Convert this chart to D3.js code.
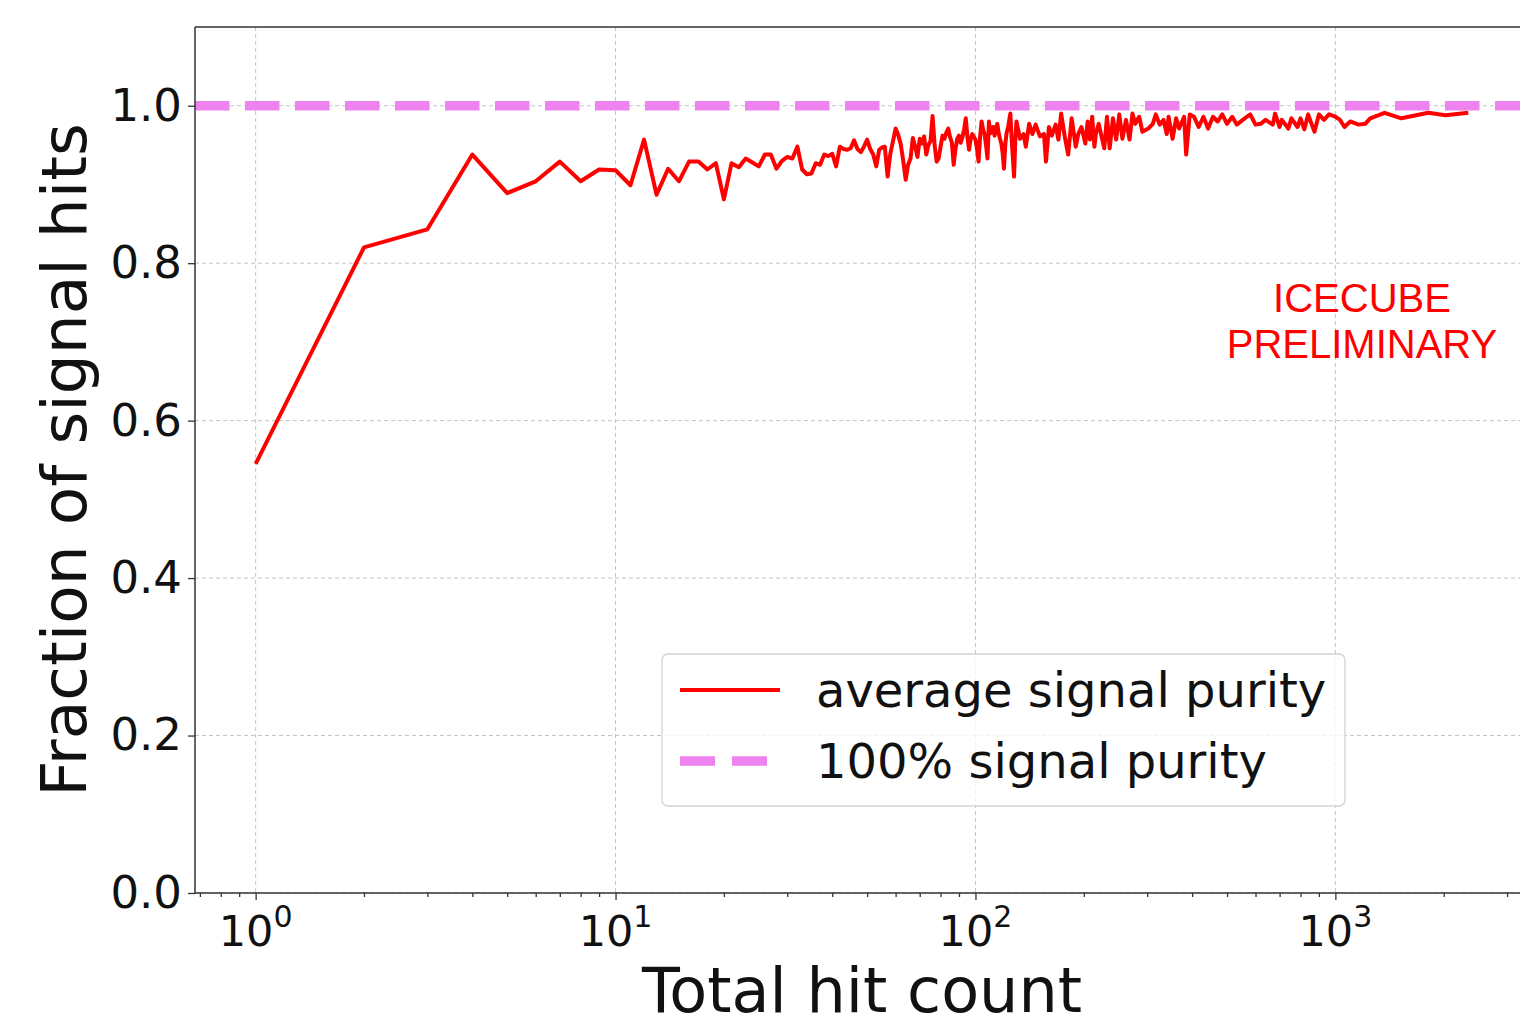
<!DOCTYPE html>
<html>
<head>
<meta charset="utf-8">
<script src="https://cdn.jsdelivr.net/npm/d3@7"></script>
<style>
  body { margin: 0; background: #fff; }
  svg { display: block; }
</style>
</head>
<body>
<svg id="chart" width="1520" height="1028"></svg>
<script>
// Average signal purity per total hit count
const hitCounts = [
  1, 2, 3, 4, 5, 6, 7, 8, 9, 10,
  11, 12, 13, 14, 15, 16, 17, 18, 19, 20,
  21, 22, 23, 24, 25, 26, 27, 28, 29, 30,
  31, 32, 33, 34, 35, 36, 37, 38, 39, 40,
  41, 42, 43, 44, 45, 46, 47, 48, 49, 50,
  51, 52, 53, 54, 55, 56, 57, 58, 59, 60,
  61, 62, 63, 64, 65, 66, 67, 68, 69, 70,
  71, 72, 73, 74, 75, 76, 77, 78, 79, 80,
  81, 82, 83, 84, 85, 86, 87, 88, 89, 90,
  91, 92, 93, 94, 95, 96, 97, 98, 99, 100,
  101, 102, 103, 104, 105, 106, 107, 108, 109, 110,
  111, 112, 113, 114, 115, 116, 117, 118, 119, 120,
  121, 122, 123, 124, 125, 126, 127, 128, 129, 130,
  133, 136, 138, 141, 144, 147, 151, 155, 157, 160,
  163, 167, 170, 173, 177, 181, 185, 190, 193, 197,
  202, 205, 208, 211, 214, 216, 220, 224, 228, 232,
  236, 241, 246, 251, 256, 262, 268, 273, 278, 285,
  291, 302, 311, 317, 325, 333, 340, 344, 353, 361,
  368, 380, 385, 394, 405, 417, 430, 443, 457, 471,
  485, 500, 517, 532, 560, 580, 600, 620, 640, 670,
  680, 700, 710, 740, 755, 785, 800, 820, 840, 860,
  875, 900, 930, 960, 1000, 1030, 1060, 1100, 1160, 1210,
  1250, 1320, 1370, 1525, 1813, 2022, 2341
];
const purity = [
  0.545, 0.820, 0.843, 0.938, 0.889, 0.904, 0.929, 0.904, 0.919, 0.918,
  0.899, 0.957, 0.887, 0.920, 0.904, 0.929, 0.929, 0.919, 0.927, 0.881,
  0.927, 0.922, 0.933, 0.928, 0.923, 0.938, 0.938, 0.920, 0.930, 0.935,
  0.933, 0.948, 0.919, 0.913, 0.914, 0.927, 0.925, 0.938, 0.936, 0.939,
  0.923, 0.948, 0.945, 0.944, 0.946, 0.956, 0.945, 0.941, 0.948, 0.957,
  0.945, 0.938, 0.923, 0.944, 0.947, 0.948, 0.910, 0.939, 0.955, 0.971,
  0.963, 0.951, 0.930, 0.906, 0.925, 0.933, 0.959, 0.948, 0.935, 0.958,
  0.952, 0.961, 0.938, 0.950, 0.955, 0.987, 0.950, 0.929, 0.933, 0.948,
  0.962, 0.958, 0.966, 0.971, 0.960, 0.953, 0.925, 0.945, 0.958, 0.962,
  0.953, 0.960, 0.970, 0.984, 0.960, 0.944, 0.958, 0.964, 0.960, 0.957,
  0.945, 0.929, 0.960, 0.980, 0.970, 0.964, 0.950, 0.933, 0.980, 0.965,
  0.968, 0.973, 0.962, 0.970, 0.977, 0.965, 0.958, 0.952, 0.940, 0.920,
  0.950, 0.965, 0.971, 0.980, 0.990, 0.960, 0.935, 0.910, 0.955, 0.980,
  0.958, 0.964, 0.948, 0.977, 0.964, 0.976, 0.961, 0.964, 0.929, 0.973,
  0.962, 0.976, 0.957, 0.990, 0.961, 0.938, 0.984, 0.948, 0.964, 0.973,
  0.952, 0.980, 0.957, 0.986, 0.948, 0.964, 0.977, 0.961, 0.946, 0.986,
  0.946, 0.984, 0.957, 0.989, 0.958, 0.982, 0.957, 0.990, 0.977, 0.986,
  0.967, 0.971, 0.977, 0.989, 0.976, 0.982, 0.964, 0.986, 0.958, 0.984,
  0.971, 0.986, 0.938, 0.989, 0.986, 0.973, 0.986, 0.971, 0.986, 0.980,
  0.989, 0.977, 0.986, 0.976, 0.984, 0.989, 0.976, 0.977, 0.982, 0.976,
  0.990, 0.973, 0.982, 0.971, 0.984, 0.973, 0.984, 0.970, 0.989, 0.976,
  0.967, 0.989, 0.982, 0.989, 0.986, 0.982, 0.973, 0.980, 0.976, 0.977,
  0.984, 0.988, 0.991, 0.984, 0.991, 0.988, 0.991
];
const fullPurity = 1.0;

const xTickValues = [1, 10, 100, 1000];
const xTickExponents = ["0", "1", "2", "3"];
const yTickValues = [0, 0.2, 0.4, 0.6, 0.8, 1.0];
const yTickLabels = ["0.0", "0.2", "0.4", "0.6", "0.8", "1.0"];
const legendLabels = ["average signal purity", "100% signal purity"];
const stampLines = ["ICECUBE", "PRELIMINARY"];

const svg = d3.select("#chart");
const font = "'DejaVu Sans', sans-serif";

svg.append("rect").attr("width", 1520).attr("height", 1028).attr("fill", "#fff");

const plot = { left: 195, right: 1529, top: 27, bottom: 893 };

const x = d3.scaleLog()
  .domain([Math.pow(10, -0.1685), Math.pow(10, 3.538)])
  .range([plot.left, plot.right]);
const y = d3.scaleLinear()
  .domain([0, 1.1])
  .range([plot.bottom, plot.top]);

// grid
const grid = svg.append("g")
  .attr("stroke", "#c4c4c4")
  .attr("stroke-width", 1)
  .attr("stroke-dasharray", "4,3");
grid.selectAll("line.vx").data(xTickValues).join("line")
  .attr("x1", d => x(d)).attr("x2", d => x(d))
  .attr("y1", plot.top).attr("y2", plot.bottom);
grid.selectAll("line.hy").data(yTickValues).join("line")
  .attr("x1", plot.left).attr("x2", plot.right)
  .attr("y1", d => y(d)).attr("y2", d => y(d));

// clip
svg.append("clipPath").attr("id", "plotClip")
  .append("rect")
  .attr("x", plot.left).attr("y", plot.top)
  .attr("width", plot.right - plot.left).attr("height", plot.bottom - plot.top);

const series = hitCounts.map((n, i) => ({ n, p: purity[i] }));
const line = d3.line().x(d => x(d.n)).y(d => y(d.p));

svg.append("path")
  .datum(series)
  .attr("clip-path", "url(#plotClip)")
  .attr("d", line)
  .attr("fill", "none")
  .attr("stroke", "red")
  .attr("stroke-width", 4)
  .attr("stroke-linejoin", "round");

// 100% reference line
svg.append("line")
  .attr("clip-path", "url(#plotClip)")
  .attr("x1", plot.left).attr("x2", plot.right)
  .attr("y1", y(fullPurity)).attr("y2", y(fullPurity))
  .attr("stroke", "violet")
  .attr("stroke-width", 9.3)
  .attr("stroke-dasharray", "34.5,15.5");

// axes ticks
const minorTicks = [];
[0.1, 1, 10, 100, 1000].forEach(dec => {
  for (let k = 2; k <= 9; k++) {
    const v = dec * k;
    if (v >= x.domain()[0] && v <= x.domain()[1]) minorTicks.push(v);
  }
});

const xMinor = d3.axisBottom(x).tickValues(minorTicks).tickSize(4).tickFormat("");
const xMajor = d3.axisBottom(x).tickValues(xTickValues).tickSize(7).tickFormat("");
const yAxis = d3.axisLeft(y).tickValues(yTickValues).tickSize(7).tickPadding(6)
  .tickFormat((d, i) => yTickLabels[i]);

const gxm = svg.append("g").attr("transform", `translate(0,${plot.bottom})`).call(xMinor);
const gxM = svg.append("g").attr("transform", `translate(0,${plot.bottom})`).call(xMajor);
const gy = svg.append("g").attr("transform", `translate(${plot.left},0)`).call(yAxis);
[gxm, gxM, gy].forEach(g => {
  g.select(".domain").remove();
  g.selectAll(".tick line").attr("stroke", "#333").attr("stroke-width", 1.3);
});
gy.selectAll(".tick text")
  .attr("font-family", font)
  .attr("font-size", 45)
  .attr("fill", "#111");

// x tick labels with superscript exponents
const xl = svg.append("g").attr("font-family", font).attr("fill", "#111");
xTickValues.forEach((v, i) => {
  const t = xl.append("text")
    .attr("x", x(v))
    .attr("y", 946)
    .attr("text-anchor", "middle")
    .attr("font-size", 43);
  t.append("tspan").text("10");
  t.append("tspan").attr("font-size", 30).attr("dy", -19).text(xTickExponents[i]);
});

// spines
const spines = svg.append("g").attr("stroke", "#333").attr("stroke-width", 1.5).attr("fill", "none");
spines.append("line").attr("x1", plot.left).attr("x2", plot.left).attr("y1", plot.top).attr("y2", plot.bottom);
spines.append("line").attr("x1", plot.left).attr("x2", plot.right).attr("y1", plot.top).attr("y2", plot.top);
spines.append("line").attr("x1", plot.left).attr("x2", plot.right).attr("y1", plot.bottom).attr("y2", plot.bottom);
spines.append("line").attr("x1", plot.right).attr("x2", plot.right).attr("y1", plot.top).attr("y2", plot.bottom);

// axis titles
svg.append("text")
  .attr("x", 862).attr("y", 1012)
  .attr("text-anchor", "middle")
  .attr("font-family", font).attr("font-size", 62).attr("fill", "#111")
  .text("Total hit count");
svg.append("text")
  .attr("transform", "translate(86,460) rotate(-90)")
  .attr("text-anchor", "middle")
  .attr("font-family", font).attr("font-size", 63).attr("fill", "#111")
  .text("Fraction of signal hits");

// preliminary stamp
svg.append("g")
  .attr("font-family", "'Liberation Sans', Arial, sans-serif")
  .attr("font-size", 40).attr("fill", "red").attr("text-anchor", "middle")
  .selectAll("text").data(stampLines).join("text")
  .attr("x", 1362).attr("y", (d, i) => 312 + i * 46)
  .text(d => d);

// legend
const lg = svg.append("g");
lg.append("rect")
  .attr("x", 662).attr("y", 654).attr("width", 683).attr("height", 152)
  .attr("rx", 6).attr("fill", "#fff").attr("fill-opacity", 0.8)
  .attr("stroke", "#d4d4d4").attr("stroke-width", 1.3);
lg.append("line")
  .attr("x1", 680).attr("x2", 780).attr("y1", 690).attr("y2", 690)
  .attr("stroke", "red").attr("stroke-width", 4);
lg.append("line")
  .attr("x1", 680).attr("x2", 768).attr("y1", 761).attr("y2", 761)
  .attr("stroke", "violet").attr("stroke-width", 9.3)
  .attr("stroke-dasharray", "35,17");
lg.selectAll("text").data(legendLabels).join("text")
  .attr("x", 816).attr("y", (d, i) => 707 + i * 71)
  .attr("font-family", font).attr("font-size", 48).attr("fill", "#111")
  .text(d => d);
</script>
</body>
</html>
